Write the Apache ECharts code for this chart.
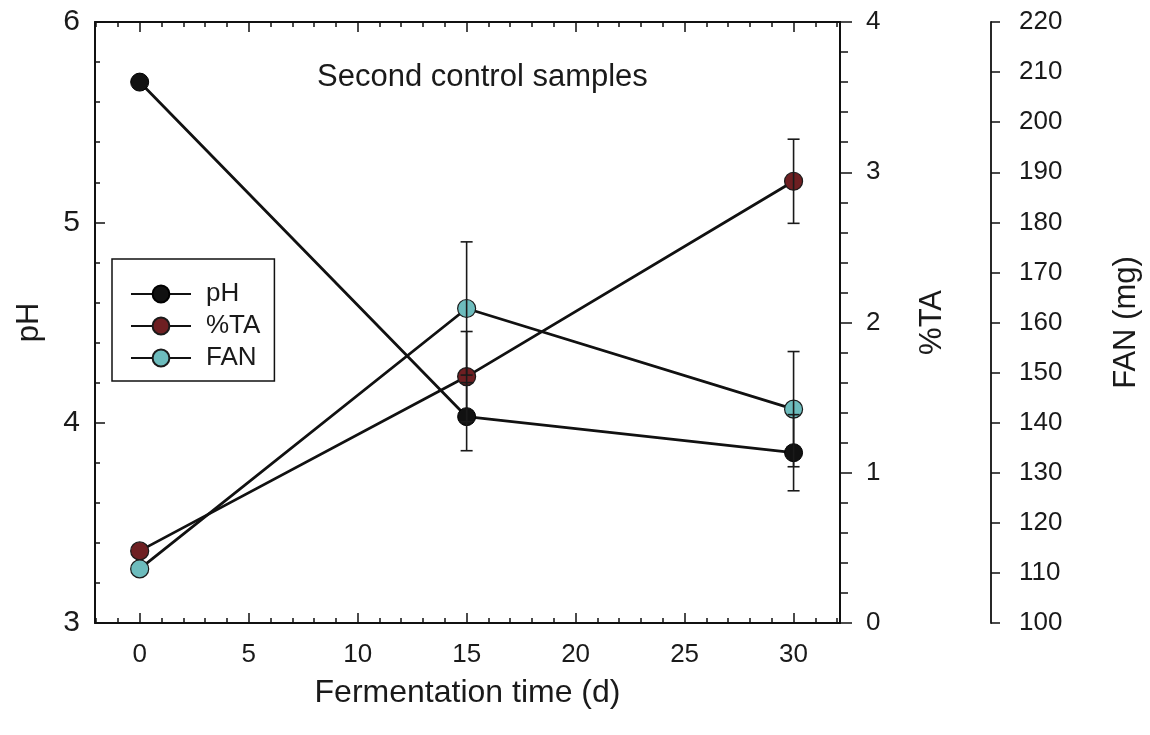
<!DOCTYPE html>
<html>
<head>
<meta charset="utf-8">
<script src="https://cdn.jsdelivr.net/npm/echarts@6/dist/echarts.min.js"></script>
<style>
html,body{margin:0;padding:0;background:#fff;}
#chart{width:1150px;height:735px;}
</style>
</head>
<body>
<div id="chart"></div>
<script>
// ---- data ----
const days = [0, 15, 30];
const pH = [5.70, 4.03, 3.85];
const pHErr = [0, 0.17, 0.19];
const ta = [0.48, 1.64, 2.94];
const taErr = [0, 0.30, 0.28];
const fan = [110.8, 162.8, 142.7];
const fanErr = [0, 13.3, 11.5];

const xMajorTicks = [0, 5, 10, 15, 20, 25, 30];
const xMinorTicks = [-2, -1, 1, 2, 3, 4, 6, 7, 8, 9, 11, 12, 13, 14, 16, 17, 18, 19, 21, 22, 23, 24, 26, 27, 28, 29, 31, 32];
const seriesNames = ['pH', '%TA', 'FAN'];

const FONT = 'Liberation Sans, Arial, sans-serif';
const TXT = '#1a1a1a';

function pts(vals) { return days.map((d, i) => [d, vals[i]]); }
function errPts(vals, errs) {
  const out = [];
  days.forEach((d, i) => { if (errs[i] > 0) out.push([d, vals[i] - errs[i], vals[i] + errs[i]]); });
  return out;
}
function errorRender(params, api) {
  const x = api.value(0);
  const lo = api.coord([x, api.value(1)]);
  const hi = api.coord([x, api.value(2)]);
  const w = 6;
  const st = { stroke: '#1a1a1a', lineWidth: 1.6 };
  return {
    type: 'group',
    children: [
      { type: 'line', shape: { x1: hi[0], y1: hi[1], x2: lo[0], y2: lo[1] }, style: st },
      { type: 'line', shape: { x1: hi[0] - w, y1: hi[1], x2: hi[0] + w, y2: hi[1] }, style: st },
      { type: 'line', shape: { x1: lo[0] - w, y1: lo[1], x2: lo[0] + w, y2: lo[1] }, style: st }
    ]
  };
}

const axisLineStyle = { color: '#111', width: 2 };
const tickStyle = { color: '#111', width: 1.5 };
const xMin = -2.05, xMax = 32.13;

const chart = echarts.init(document.getElementById('chart'), null, { renderer: 'canvas' });
chart.setOption({
  backgroundColor: '#fff',
  animation: false,
  textStyle: { fontFamily: FONT, color: TXT },
  title: {
    text: 'Second control samples',
    left: 312, top: 57,
    textStyle: { fontFamily: FONT, fontSize: 31, fontWeight: 'normal', color: TXT }
  },
  grid: { left: 95, right: 304, top: 22, bottom: 112, containLabel: false },
  legend: {
    data: seriesNames,
    orient: 'vertical',
    left: 112, top: 259,
    padding: [22, 14, 10, 18],
    itemGap: 6,
    itemWidth: 60,
    itemHeight: 21,
    borderColor: '#111',
    borderWidth: 1.5,
    textStyle: { fontFamily: FONT, fontSize: 26, color: TXT, padding: [0, 0, 0, 10] },
    selectedMode: false
  },
  xAxis: [
    {
      type: 'value', position: 'bottom', min: xMin, max: xMax,
      name: 'Fermentation time (d)', nameLocation: 'middle', nameGap: 54,
      nameTextStyle: { fontFamily: FONT, fontSize: 32, color: TXT },
      axisLine: { show: true, onZero: false, lineStyle: axisLineStyle },
      axisTick: { show: true, inside: true, length: 10, customValues: xMajorTicks, lineStyle: tickStyle },
      axisLabel: { show: true, customValues: xMajorTicks, fontFamily: FONT, fontSize: 26, color: TXT, margin: 19 },
      splitLine: { show: false }
    },
    {
      type: 'value', position: 'bottom', min: xMin, max: xMax,
      axisLine: { show: false, onZero: false },
      axisTick: { show: true, inside: true, length: 5, customValues: xMinorTicks, lineStyle: tickStyle },
      axisLabel: { show: false },
      splitLine: { show: false }
    },
    {
      type: 'value', position: 'top', min: xMin, max: xMax,
      axisLine: { show: true, onZero: false, lineStyle: axisLineStyle },
      axisTick: { show: true, inside: true, length: 10, customValues: xMajorTicks, lineStyle: tickStyle },
      axisLabel: { show: false },
      splitLine: { show: false }
    },
    {
      type: 'value', position: 'top', min: xMin, max: xMax,
      axisLine: { show: false, onZero: false },
      axisTick: { show: true, inside: true, length: 5, customValues: xMinorTicks, lineStyle: tickStyle },
      axisLabel: { show: false },
      splitLine: { show: false }
    }
  ],
  yAxis: [
    {
      type: 'value', position: 'left', min: 3, max: 6, interval: 1,
      name: 'pH', nameLocation: 'middle', nameGap: 50, nameRotate: 90,
      nameTextStyle: { fontFamily: FONT, fontSize: 31, color: TXT },
      axisLine: { show: true, onZero: false, lineStyle: axisLineStyle },
      axisTick: { show: true, inside: true, length: 10, lineStyle: tickStyle },
      minorTick: { show: true, splitNumber: 5, length: 5, lineStyle: tickStyle },
      axisLabel: { fontFamily: FONT, fontSize: 30, color: TXT, margin: 15 },
      splitLine: { show: false }
    },
    {
      type: 'value', position: 'right', min: 0, max: 4, interval: 1,
      name: '%TA', nameLocation: 'middle', nameGap: 77, nameRotate: 90,
      nameTextStyle: { fontFamily: FONT, fontSize: 31, color: TXT },
      axisLine: { show: true, onZero: false, lineStyle: axisLineStyle },
      axisTick: { show: true, inside: false, length: 12, lineStyle: tickStyle },
      minorTick: { show: true, splitNumber: 5, length: 8, lineStyle: tickStyle },
      axisLabel: { fontFamily: FONT, fontSize: 26, color: TXT, margin: 26 },
      splitLine: { show: false }
    },
    {
      type: 'value', position: 'right', offset: 151, min: 100, max: 220, interval: 10,
      name: 'FAN (mg)', nameLocation: 'middle', nameGap: 120, nameRotate: 90,
      nameTextStyle: { fontFamily: FONT, fontSize: 31, color: TXT },
      axisLine: { show: true, onZero: false, lineStyle: { color: '#111', width: 1.8 } },
      axisTick: { show: true, inside: false, length: 9, lineStyle: tickStyle },
      axisLabel: { fontFamily: FONT, fontSize: 26, color: TXT, margin: 28 },
      splitLine: { show: false }
    }
  ],
  series: [
    {
      name: 'pH', type: 'line', xAxisIndex: 0, yAxisIndex: 0, data: pts(pH),
      symbol: 'circle', symbolSize: 18, z: 3,
      lineStyle: { color: '#111', width: 2.8 },
      itemStyle: { color: '#111', borderColor: '#000', borderWidth: 1 }
    },
    {
      name: '%TA', type: 'line', xAxisIndex: 0, yAxisIndex: 1, data: pts(ta),
      symbol: 'circle', symbolSize: 18, z: 3,
      lineStyle: { color: '#111', width: 2.8 },
      itemStyle: { color: '#6e1f22', borderColor: '#1a1a1a', borderWidth: 1.2 }
    },
    {
      name: 'FAN', type: 'line', xAxisIndex: 0, yAxisIndex: 2, data: pts(fan),
      symbol: 'circle', symbolSize: 18, z: 3,
      lineStyle: { color: '#111', width: 2.8 },
      itemStyle: { color: '#6dbcbd', borderColor: '#1a1a1a', borderWidth: 1.2 }
    },
    {
      name: 'pH err', type: 'custom', xAxisIndex: 0, yAxisIndex: 0, data: errPts(pH, pHErr),
      renderItem: errorRender, encode: { x: 0, y: [1, 2] }, z: 4, silent: true
    },
    {
      name: '%TA err', type: 'custom', xAxisIndex: 0, yAxisIndex: 1, data: errPts(ta, taErr),
      renderItem: errorRender, encode: { x: 0, y: [1, 2] }, z: 4, silent: true
    },
    {
      name: 'FAN err', type: 'custom', xAxisIndex: 0, yAxisIndex: 2, data: errPts(fan, fanErr),
      renderItem: errorRender, encode: { x: 0, y: [1, 2] }, z: 4, silent: true
    }
  ]
});
</script>
</body>
</html>
